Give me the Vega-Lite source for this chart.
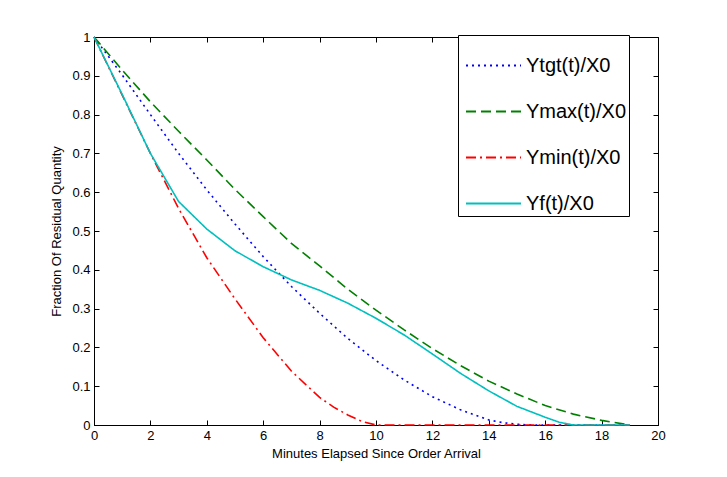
{
  "$schema": "https://vega.github.io/schema/vega-lite/v6.json",
  "width": 564,
  "height": 388,
  "autosize": "none",
  "padding": {"left": 94, "top": 37, "right": 69, "bottom": 52},
  "background": "white",
  "config": {
    "font": "Liberation Sans",
    "view": {"stroke": "black", "strokeWidth": 1},
    "axis": {
      "domainColor": "black",
      "labelColor": "black",
      "labelFontSize": 13,
      "labelFlush": false,
      "labelOverlap": false,
      "titleColor": "black",
      "titleFontSize": 13,
      "titleFontWeight": "normal",
      "labelFont": "Liberation Sans",
      "titleFont": "Liberation Sans",
      "gridColor": "black",
      "gridOpacity": 1,
      "gridWidth": 1
    },
    "legend": {
      "orient": "none",
      "legendX": 364,
      "legendY": -2,
      "strokeColor": "black",
      "fillColor": "white",
      "padding": 2,
      "symbolOffset": 5,
      "symbolType": "stroke",
      "symbolSize": 3025,
      "symbolStrokeWidth": 2,
      "labelFontSize": 20,
      "labelFont": "Liberation Sans",
      "labelColor": "black",
      "labelLimit": 400,
      "labelOffset": 4,
      "rowPadding": 7
    }
  },
  "data": {
    "values": [
      {"t": 0, "series": "Ytgt(t)/X0", "v": 1.0},
      {"t": 1, "series": "Ytgt(t)/X0", "v": 0.902},
      {"t": 2, "series": "Ytgt(t)/X0", "v": 0.80},
      {"t": 3, "series": "Ytgt(t)/X0", "v": 0.70},
      {"t": 4, "series": "Ytgt(t)/X0", "v": 0.606},
      {"t": 5, "series": "Ytgt(t)/X0", "v": 0.518},
      {"t": 6, "series": "Ytgt(t)/X0", "v": 0.434},
      {"t": 7, "series": "Ytgt(t)/X0", "v": 0.357},
      {"t": 8, "series": "Ytgt(t)/X0", "v": 0.288},
      {"t": 9, "series": "Ytgt(t)/X0", "v": 0.223},
      {"t": 10, "series": "Ytgt(t)/X0", "v": 0.166},
      {"t": 11, "series": "Ytgt(t)/X0", "v": 0.116},
      {"t": 12, "series": "Ytgt(t)/X0", "v": 0.073},
      {"t": 13, "series": "Ytgt(t)/X0", "v": 0.039},
      {"t": 14, "series": "Ytgt(t)/X0", "v": 0.013},
      {"t": 14.5, "series": "Ytgt(t)/X0", "v": 0.006},
      {"t": 15, "series": "Ytgt(t)/X0", "v": 0.002},
      {"t": 15.5, "series": "Ytgt(t)/X0", "v": 0.0},
      {"t": 17, "series": "Ytgt(t)/X0", "v": 0.0},
      {"t": 19, "series": "Ytgt(t)/X0", "v": 0.0},

      {"t": 0, "series": "Ymax(t)/X0", "v": 1.0},
      {"t": 1, "series": "Ymax(t)/X0", "v": 0.915},
      {"t": 2, "series": "Ymax(t)/X0", "v": 0.833},
      {"t": 3, "series": "Ymax(t)/X0", "v": 0.757},
      {"t": 4, "series": "Ymax(t)/X0", "v": 0.683},
      {"t": 5, "series": "Ymax(t)/X0", "v": 0.607},
      {"t": 6, "series": "Ymax(t)/X0", "v": 0.537},
      {"t": 7, "series": "Ymax(t)/X0", "v": 0.468},
      {"t": 8, "series": "Ymax(t)/X0", "v": 0.41},
      {"t": 9, "series": "Ymax(t)/X0", "v": 0.35},
      {"t": 10, "series": "Ymax(t)/X0", "v": 0.296},
      {"t": 11, "series": "Ymax(t)/X0", "v": 0.245},
      {"t": 12, "series": "Ymax(t)/X0", "v": 0.197},
      {"t": 13, "series": "Ymax(t)/X0", "v": 0.153},
      {"t": 14, "series": "Ymax(t)/X0", "v": 0.113},
      {"t": 15, "series": "Ymax(t)/X0", "v": 0.08},
      {"t": 16, "series": "Ymax(t)/X0", "v": 0.05},
      {"t": 17, "series": "Ymax(t)/X0", "v": 0.028},
      {"t": 18, "series": "Ymax(t)/X0", "v": 0.012},
      {"t": 19, "series": "Ymax(t)/X0", "v": 0.0},

      {"t": 0, "series": "Ymin(t)/X0", "v": 1.0},
      {"t": 1, "series": "Ymin(t)/X0", "v": 0.85},
      {"t": 2, "series": "Ymin(t)/X0", "v": 0.70},
      {"t": 3, "series": "Ymin(t)/X0", "v": 0.558},
      {"t": 4, "series": "Ymin(t)/X0", "v": 0.431},
      {"t": 5, "series": "Ymin(t)/X0", "v": 0.325},
      {"t": 6, "series": "Ymin(t)/X0", "v": 0.225},
      {"t": 7, "series": "Ymin(t)/X0", "v": 0.139},
      {"t": 8, "series": "Ymin(t)/X0", "v": 0.071},
      {"t": 8.5, "series": "Ymin(t)/X0", "v": 0.046},
      {"t": 9, "series": "Ymin(t)/X0", "v": 0.026},
      {"t": 9.5, "series": "Ymin(t)/X0", "v": 0.009},
      {"t": 10, "series": "Ymin(t)/X0", "v": 0.0},
      {"t": 13, "series": "Ymin(t)/X0", "v": 0.0},
      {"t": 16, "series": "Ymin(t)/X0", "v": 0.0},
      {"t": 19, "series": "Ymin(t)/X0", "v": 0.0},

      {"t": 0, "series": "Yf(t)/X0", "v": 1.0},
      {"t": 1, "series": "Yf(t)/X0", "v": 0.852},
      {"t": 2, "series": "Yf(t)/X0", "v": 0.70},
      {"t": 3, "series": "Yf(t)/X0", "v": 0.576},
      {"t": 4, "series": "Yf(t)/X0", "v": 0.505},
      {"t": 5, "series": "Yf(t)/X0", "v": 0.449},
      {"t": 6, "series": "Yf(t)/X0", "v": 0.408},
      {"t": 7, "series": "Yf(t)/X0", "v": 0.374},
      {"t": 8, "series": "Yf(t)/X0", "v": 0.347},
      {"t": 9, "series": "Yf(t)/X0", "v": 0.314},
      {"t": 10, "series": "Yf(t)/X0", "v": 0.275},
      {"t": 11, "series": "Yf(t)/X0", "v": 0.232},
      {"t": 12, "series": "Yf(t)/X0", "v": 0.183},
      {"t": 13, "series": "Yf(t)/X0", "v": 0.133},
      {"t": 14, "series": "Yf(t)/X0", "v": 0.088},
      {"t": 15, "series": "Yf(t)/X0", "v": 0.048},
      {"t": 16, "series": "Yf(t)/X0", "v": 0.02},
      {"t": 16.5, "series": "Yf(t)/X0", "v": 0.007},
      {"t": 17, "series": "Yf(t)/X0", "v": 0.0},
      {"t": 18, "series": "Yf(t)/X0", "v": 0.0},
      {"t": 19, "series": "Yf(t)/X0", "v": 0.0}
    ]
  },
  "mark": {"type": "line", "strokeWidth": 1.6},
  "encoding": {
    "x": {
      "field": "t", "type": "quantitative",
      "scale": {"domain": [0, 20], "nice": false, "zero": false},
      "axis": {"orient": "bottom", "title": "Minutes Elapsed Since Order Arrival", "values": [0, 2, 4, 6, 8, 10, 12, 14, 16, 18, 20], "format": "d", "ticks": false, "labelPadding": 4, "titlePadding": 5, "grid": true, "gridDash": [5, 378, 5, 1000]}
    },
    "y": {
      "field": "v", "type": "quantitative",
      "scale": {"domain": [0, 1], "nice": false},
      "axis": {"orient": "left", "title": "Fraction Of Residual Quantity", "values": [0, 0.1, 0.2, 0.3, 0.4, 0.5, 0.6, 0.7, 0.8, 0.9, 1], "format": ".1~f", "ticks": false, "labelPadding": 4, "titlePadding": 8, "grid": true, "gridDash": [5, 554, 5, 1000]}
    },
    "color": {
      "field": "series", "type": "nominal",
      "scale": {"domain": ["Ytgt(t)/X0", "Ymax(t)/X0", "Ymin(t)/X0", "Yf(t)/X0"], "range": ["#0000ff", "#008000", "#ff0000", "#00bfbf"]},
      "legend": {"title": null}
    },
    "strokeDash": {
      "field": "series", "type": "nominal",
      "scale": {"domain": ["Ytgt(t)/X0", "Ymax(t)/X0", "Ymin(t)/X0", "Yf(t)/X0"], "range": [[2, 4], [10, 5], [10, 4, 2, 4], [1, 0]]},
      "legend": {"title": null}
    },
    "order": {"field": "t", "type": "quantitative"}
  }
}
